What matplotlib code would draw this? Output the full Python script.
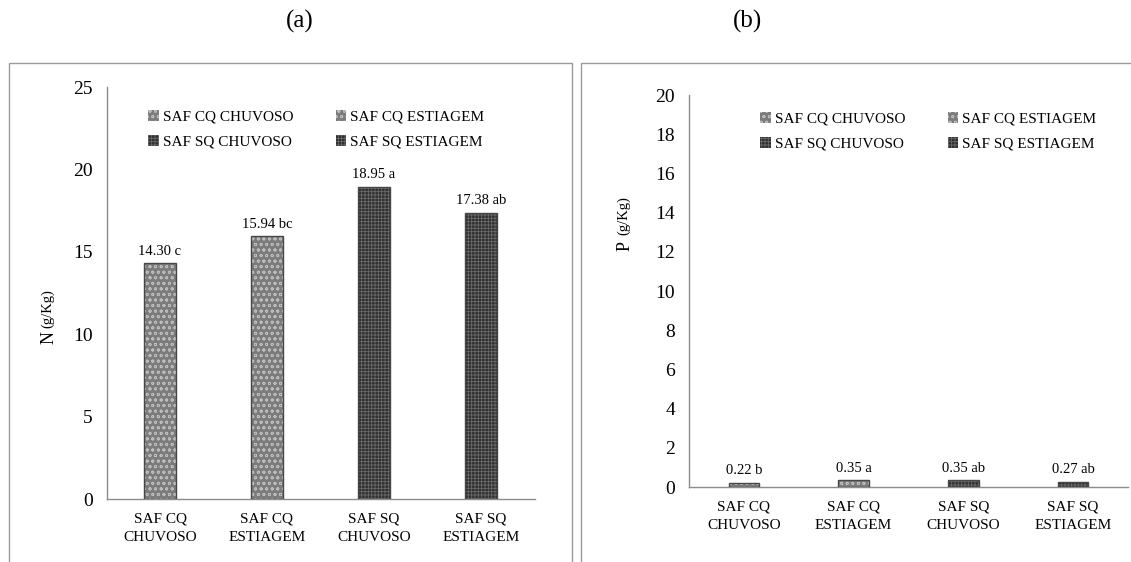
import matplotlib.pyplot as plt
from matplotlib.patches import Rectangle

plt.rcParams['font.family'] = ['Liberation Serif', 'DejaVu Serif']
plt.rcParams['hatch.linewidth'] = 0.6

# --- dados ---
categorias = ['SAF CQ\nCHUVOSO', 'SAF CQ\nESTIAGEM', 'SAF SQ\nCHUVOSO', 'SAF SQ\nESTIAGEM']
legenda = ['SAF CQ CHUVOSO', 'SAF CQ ESTIAGEM', 'SAF SQ CHUVOSO', 'SAF SQ ESTIAGEM']
n_valores = [14.30, 15.94, 18.95, 17.38]
n_letras = ['c', 'bc', 'a', 'ab']
p_valores = [0.22, 0.35, 0.35, 0.27]
p_letras = ['b', 'a', 'ab', 'ab']

# estilo das barras: CQ cinza pontilhado, SQ escuro quadriculado
cores = ['#7c7c7c', '#7c7c7c', '#2f2f2f', '#2f2f2f']
hachuras = ['ooo', 'ooo', '+++++', '+++++']
cor_hachura = ['#bdbdbd', '#bdbdbd', '#6a6a6a', '#6a6a6a']

W, H = 1131, 562
fig = plt.figure(figsize=(W / 100, H / 100), dpi=100)

# molduras dos dois quadros
fig.patches.append(Rectangle((9 / W, -0.05), (572 - 9) / W, 1.05 - 63 / H,
                             transform=fig.transFigure, fill=False,
                             edgecolor='#9a9a9a', lw=1.0))
fig.patches.append(Rectangle((581 / W, -0.05), 0.6, 1.05 - 63 / H,
                             transform=fig.transFigure, fill=False,
                             edgecolor='#9a9a9a', lw=1.0))


def painel(rect, valores, letras, ymax, passo, largura, leg_pos):
    ax = fig.add_axes(rect)
    x = list(range(len(valores)))
    barras = []
    for i, v in enumerate(valores):
        b = ax.bar(x[i], v, width=largura, color=cores[i], hatch=hachuras[i],
                   edgecolor=cor_hachura[i], linewidth=0, label=legenda[i],
                   zorder=2)
        ax.bar(x[i], v, width=largura, fill=False, edgecolor='#474747',
               linewidth=1.0, zorder=3)
        barras.append(b)
        ax.annotate(f'{v:.2f} {letras[i]}', (x[i], v), xytext=(0, 4),
                    textcoords='offset points', ha='center', va='bottom',
                    fontsize=10.5)
    ax.set_xlim(-0.5, len(valores) - 0.5)
    ax.set_ylim(0, ymax)
    ax.set_yticks(range(0, ymax + 1, passo))
    ax.set_xticks(x)
    ax.set_xticklabels(categorias, fontsize=11, linespacing=1.5)
    ax.tick_params(axis='y', length=0, pad=10, labelsize=14)
    ax.tick_params(axis='x', length=0, pad=10)
    for s in ['top', 'right']:
        ax.spines[s].set_visible(False)
    for s in ['left', 'bottom']:
        ax.spines[s].set_color('#8c8c8c')
        ax.spines[s].set_linewidth(1.0)
    # legenda em duas colunas (CQ na primeira linha, SQ na segunda)
    ordem = [barras[0], barras[2], barras[1], barras[3]]
    ax.legend(ordem, [legenda[0], legenda[2], legenda[1], legenda[3]],
              ncol=2, frameon=False, fontsize=11, loc='upper left',
              bbox_to_anchor=leg_pos, bbox_transform=fig.transFigure,
              handlelength=0.7, handleheight=0.7, handletextpad=0.25,
              columnspacing=2.8, labelspacing=0.75, borderpad=0,
              borderaxespad=0)
    return ax


ax_a = painel([106.5 / W, 1 - 499 / H, 428 / W, 412 / H],
              n_valores, n_letras, 25, 5, 0.30, (148 / W, 1 - 110 / H))
ax_b = painel([689 / W, 1 - 487 / H, 439 / W, 392 / H],
              p_valores, p_letras, 20, 2, 0.28, (760 / W, 1 - 112 / H))

# rótulos dos eixos: letra maior e unidade menor
fig.text(49 / W, 1 - 338 / H, 'N', rotation=90, ha='center', va='center',
         fontsize=13)
fig.text(48 / W, 1 - 309 / H, '(g/Kg)', rotation=90, ha='center', va='center',
         fontsize=10.5)
fig.text(625 / W, 1 - 246 / H, 'P', rotation=90, ha='center', va='center',
         fontsize=13)
fig.text(624 / W, 1 - 216 / H, '(g/Kg)', rotation=90, ha='center', va='center',
         fontsize=10.5)

fig.text(300 / W, 1 - 21 / H, '(a)', ha='center', va='center', fontsize=18)
fig.text(748 / W, 1 - 21 / H, '(b)', ha='center', va='center', fontsize=18)

fig.savefig('out.png', dpi=100)
